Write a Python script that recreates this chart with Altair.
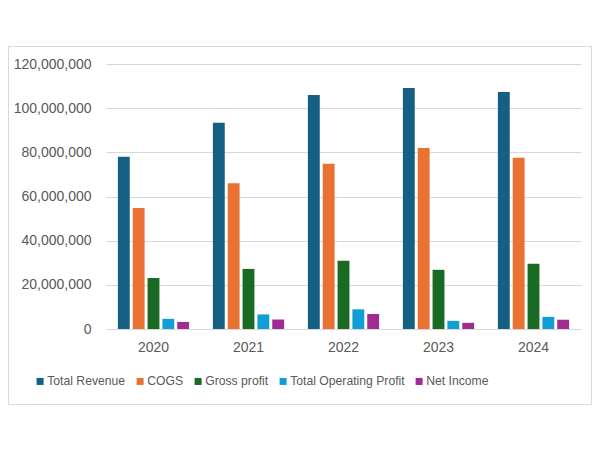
import altair as alt
import pandas as pd

years = ["2020", "2021", "2022", "2023", "2024"]
series = ["Total Revenue", "COGS", "Gross profit", "Total Operating Profit", "Net Income"]
colors = ["#156082", "#E97132", "#196B24", "#0F9ED5", "#A02B93"]

total_revenue = [78.0e6, 93.4e6, 106.0e6, 109.1e6, 107.3e6]
cogs = [54.8e6, 66.0e6, 74.8e6, 82.0e6, 77.6e6]
gross_profit = [23.1e6, 27.2e6, 30.9e6, 26.8e6, 29.6e6]
operating_profit = [4.6e6, 6.6e6, 8.9e6, 3.7e6, 5.5e6]
net_income = [3.2e6, 4.3e6, 6.8e6, 2.8e6, 4.2e6]

values = [total_revenue, cogs, gross_profit, operating_profit, net_income]
rows = []
for s, vals in zip(series, values):
    for y, v in zip(years, vals):
        rows.append({"Year": y, "Series": s, "Value": v})
df = pd.DataFrame(rows)

FONT = "Liberation Sans"
GRAY = "#595959"
GRID = "#d9d9d9"

bars = alt.Chart(df).mark_bar().encode(
    x=alt.X("Year:N", sort=years, title=None,
            scale=alt.Scale(paddingInner=0.25, paddingOuter=0.125),
            axis=alt.Axis(labelAngle=0, ticks=False, domain=True, domainColor=GRID,
                          labelPadding=11, labelFontSize=14, labelColor=GRAY,
                          labelFont=FONT, grid=False)),
    xOffset=alt.XOffset("Series:N", sort=series,
                        scale=alt.Scale(paddingInner=0.2, paddingOuter=0)),
    y=alt.Y("Value:Q", title=None,
            scale=alt.Scale(domain=[0, 120000000], nice=False),
            axis=alt.Axis(values=[0, 20e6, 40e6, 60e6, 80e6, 100e6, 120e6], format=",.0f",
                          ticks=False, domain=False, gridColor=GRID, gridWidth=1,
                          labelPadding=15, labelFontSize=14, labelColor=GRAY,
                          labelFont=FONT)),
    color=alt.Color("Series:N", sort=series,
                    scale=alt.Scale(domain=series, range=colors),
                    legend=alt.Legend(title=None, orient="none", direction="horizontal",
                                      columns=5, legendX=-72, legendY=311,
                                      symbolType="square", symbolSize=49,
                                      symbolStrokeWidth=0, labelFontSize=12.2,
                                      labelColor=GRAY, labelFont=FONT,
                                      labelOffset=1, columnPadding=8)),
)

border = alt.Chart(alt.Data(values=[{}])).mark_rect(
    fill=None, stroke=GRID, strokeWidth=1
).encode(
    x=alt.value(-97.5), x2=alt.value(485.5),
    y=alt.value(-17.5), y2=alt.value(340.5),
)

chart = alt.layer(border, bars).properties(
    width=475, height=265,
    autosize=alt.AutoSizeParams(type="none"),
    padding={"left": 98, "top": 56, "right": 11, "bottom": 114},
).configure_view(stroke=None)

chart.save("out.html", embed_options={"renderer": "svg", "actions": False})
